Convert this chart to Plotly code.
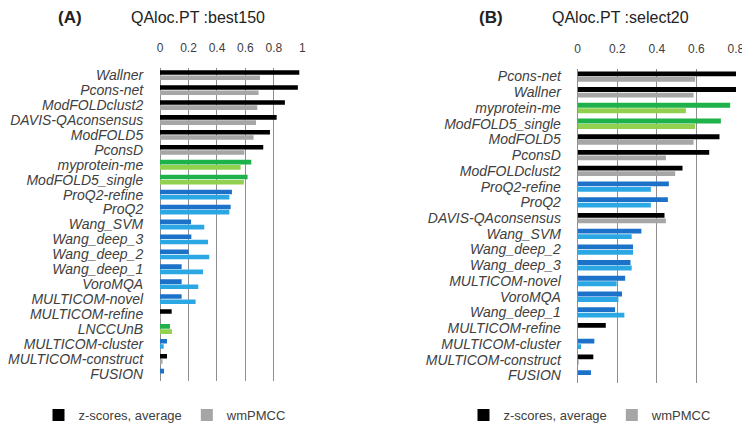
import plotly.graph_objects as go

# ---------------- data ----------------
A_methods = ["Wallner", "Pcons-net", "ModFOLDclust2", "DAVIS-QAconsensus", "ModFOLD5",
             "PconsD", "myprotein-me", "ModFOLD5_single", "ProQ2-refine", "ProQ2",
             "Wang_SVM", "Wang_deep_3", "Wang_deep_2", "Wang_deep_1", "VoroMQA",
             "MULTICOM-novel", "MULTICOM-refine", "LNCCUnB", "MULTICOM-cluster",
             "MULTICOM-construct", "FUSION"]
A_type = ["c", "c", "c", "c", "c", "c", "s", "s", "q", "q", "q", "q", "q", "q", "q",
          "q", "c", "s", "q", "c", "q"]
A_z = [0.978, 0.968, 0.877, 0.819, 0.772, 0.725, 0.641, 0.615, 0.505, 0.496,
       0.218, 0.220, 0.201, 0.152, 0.152, 0.152, 0.082, 0.070, 0.049, 0.049, 0.028]
A_wm = [0.702, 0.692, 0.683, 0.674, 0.657, 0.592, 0.566, 0.589, 0.487, 0.487,
        0.311, 0.337, 0.346, 0.302, 0.269, 0.250, 0.007, 0.084, 0.026, 0.018, 0.0]

B_methods = ["Pcons-net", "Wallner", "myprotein-me", "ModFOLD5_single", "ModFOLD5",
             "PconsD", "ModFOLDclust2", "ProQ2-refine", "ProQ2", "DAVIS-QAconsensus",
             "Wang_SVM", "Wang_deep_2", "Wang_deep_3", "MULTICOM-novel", "VoroMQA",
             "Wang_deep_1", "MULTICOM-refine", "MULTICOM-cluster", "MULTICOM-construct",
             "FUSION"]
B_type = ["c", "c", "s", "s", "c", "c", "c", "q", "q", "c", "q", "q", "q", "q", "q",
          "q", "c", "q", "c", "q"]
B_z = [0.805, 0.81, 0.771, 0.724, 0.717, 0.665, 0.530, 0.461, 0.456, 0.439,
       0.322, 0.280, 0.267, 0.240, 0.224, 0.189, 0.142, 0.084, 0.079, 0.067]
B_wm = [0.594, 0.586, 0.547, 0.594, 0.586, 0.446, 0.493, 0.370, 0.370, 0.446,
        0.273, 0.280, 0.273, 0.197, 0.206, 0.236, 0.0, 0.017, 0.005, 0.0]

A_ticks = [0, 0.2, 0.4, 0.6, 0.8, 1]
A_ticklabels = ["0", "0.2", "0.4", "0.6", "0.8", "1"]
B_ticks = [0, 0.2, 0.4, 0.6, 0.8]
B_ticklabels = ["0", "0.2", "0.4", "0.6", "0.8"]

series_names = ["z-scores, average", "wmPMCC"]

# ---------------- styles ----------------
Z_COL = {"c": "#000000", "s": "#1fb24a", "q": "#1c72c8"}
W_COL = {"c": "#a6a6a6", "s": "#92d050", "q": "#2ba8e4"}
OFF = 8  # default page body margin
W, H = 750 - OFF, 430 - OFF
FONT = "Liberation Sans"
TXT = "#404040"
GRID = "#8e8e8e"

fig = go.Figure()

panels = [
    (A_methods, A_type, A_z, A_wm, "x", "y", "legend"),
    (B_methods, B_type, B_z, B_wm, "x2", "y2", "legend2"),
]
for methods, types, zv, wv, xa, ya, lg in panels:
    fig.add_trace(go.Bar(
        y=methods, x=zv, orientation="h", name=series_names[0],
        marker=dict(color=[Z_COL[t] for t in types], line=dict(width=0)),
        xaxis=xa, yaxis=ya, legend=lg))
    fig.add_trace(go.Bar(
        y=methods, x=wv, orientation="h", name=series_names[1],
        marker=dict(color=[W_COL[t] for t in types], line=dict(width=0)),
        xaxis=xa, yaxis=ya, legend=lg))


def px_x(p):
    return (p - OFF) / W


def px_y(p):
    return 1 - (p - OFF) / H


xcommon = dict(side="top", showgrid=True, gridcolor=GRID, gridwidth=1,
               zeroline=True, zerolinecolor=GRID, zerolinewidth=1,
               showline=False, ticks="outside", ticklen=10, automargin=False,
               tickcolor="rgba(0,0,0,0)", tickmode="array",
               tickfont=dict(family=FONT, size=12, color=TXT), fixedrange=True)
ycommon = dict(type="category", autorange="reversed", showgrid=False,
               showline=False, zeroline=False, ticks="outside", ticklen=13,
               tickcolor="rgba(0,0,0,0)", automargin=False,
               tickmode="linear", dtick=1, tick0=0,
               tickfont=dict(family=FONT, size=14, color=TXT, style="italic"))

fig.update_layout(
    width=W, height=H,
    margin=dict(l=0, r=0, t=0, b=0),
    paper_bgcolor="white", plot_bgcolor="white",
    barmode="group", bargap=0.3, bargroupgap=0.12,
    xaxis=dict(domain=[px_x(160), px_x(302.5)], range=[0, 1.0005],
               tickvals=A_ticks, ticktext=A_ticklabels, anchor="y", **xcommon),
    yaxis=dict(domain=[px_y(383), px_y(68)], anchor="x", **ycommon),
    xaxis2=dict(domain=[px_x(577.7), px_x(736)], range=[0, 0.8005],
                tickvals=B_ticks, ticktext=B_ticklabels, anchor="y2", **xcommon),
    yaxis2=dict(domain=[px_y(385), px_y(69)], anchor="x2", **ycommon),
    legend=dict(orientation="h", x=px_x(165), xanchor="center",
                y=px_y(417), yanchor="middle",
                font=dict(family=FONT, size=13, color=TXT),
                bgcolor="rgba(0,0,0,0)", itemclick=False),
    legend2=dict(orientation="h", x=px_x(590), xanchor="center",
                 y=px_y(417), yanchor="middle",
                 font=dict(family=FONT, size=13, color=TXT),
                 bgcolor="rgba(0,0,0,0)", itemclick=False),
    annotations=[
        dict(text="<b>(A)</b>", x=px_x(70), y=px_y(17.5), xref="paper", yref="paper",
             xanchor="center", yanchor="middle", showarrow=False,
             font=dict(family=FONT, size=17, color="#222222")),
        dict(text="QAloc.PT :best150", x=px_x(198), y=px_y(17.5), xref="paper",
             yref="paper", xanchor="center", yanchor="middle", showarrow=False,
             font=dict(family=FONT, size=16, color="#222222")),
        dict(text="<b>(B)</b>", x=px_x(491), y=px_y(17.5), xref="paper", yref="paper",
             xanchor="center", yanchor="middle", showarrow=False,
             font=dict(family=FONT, size=17, color="#222222")),
        dict(text="QAloc.PT :select20", x=px_x(620), y=px_y(17.5), xref="paper",
             yref="paper", xanchor="center", yanchor="middle", showarrow=False,
             font=dict(family=FONT, size=16, color="#222222")),
    ],
    showlegend=True,
)

fig.write_html("out.html")
